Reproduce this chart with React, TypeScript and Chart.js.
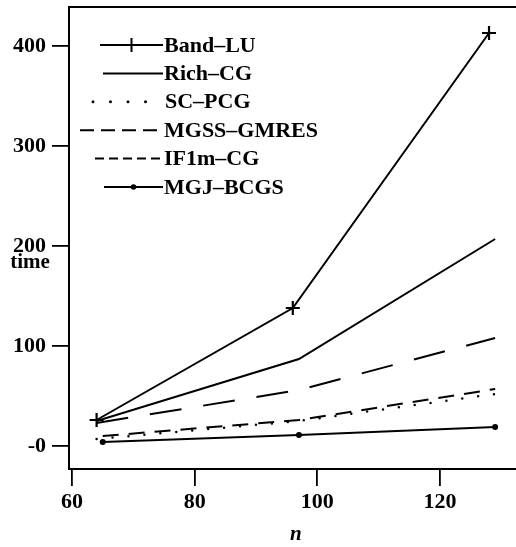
import { useEffect, useRef } from 'react';
import { Chart, registerables } from 'chart.js';

Chart.register(...registerables);

// ---- data ----
const N_BAND = [64, 96, 128];
const N_MAIN = [64, 97, 129];
const N_LOW = [65, 97, 129];

const BAND_LU = [26, 138, 413];
const RICH_CG = [25, 87, 207];
const SC_PCG = [7, 25, 52];
const MGSS_GMRES = [23, 56, 108];
const IF1M_CG = [10, 26, 57];
const MGJ_BCGS = [4, 11, 19];

const LABELS = ['Band–LU', 'Rich–CG', 'SC–PCG', 'MGSS–GMRES', 'IF1m–CG', 'MGJ–BCGS'];
const X_TICKS = [60, 80, 100, 120];
const Y_TICKS = [0, 100, 200, 300, 400];
const X_TITLE = 'n';
const Y_TITLE = 'time';

// ---- style / layout ----
const SERIF = "'Liberation Serif', 'DejaVu Serif', serif";
const TICK_FONT = { family: SERIF, size: 22, weight: 'bold' as const };
const LEGEND_FONT = `bold 22px ${SERIF}`;
const LEGEND_TOP = 38;
const LEGEND_ROW = 28.4;
const LEGEND_FROM = [31, 34, 24, 11, 26, 35];
const LEGEND_TO = [94, 94, 82, 88, 91, 94];
const LEGEND_TEXT = [95, 95, 96, 95, 95, 95];
const LEGEND_DASH: number[][] = [[], [], [0, 17.5], [14, 7], [9, 5], []];

const pts = (xs: number[], ys: number[]) => xs.map((x, i) => ({ x, y: ys[i] }));

const inlineLegend = {
  id: 'inlineLegend',
  afterDatasetsDraw(chart: any) {
    const { ctx, chartArea } = chart;
    ctx.save();
    ctx.strokeStyle = '#000';
    ctx.fillStyle = '#000';
    chart.data.datasets.forEach((ds: any, i: number) => {
      const y = chartArea.top + LEGEND_TOP + i * LEGEND_ROW;
      const x0 = chartArea.left + LEGEND_FROM[i];
      const x1 = chartArea.left + LEGEND_TO[i];
      ctx.beginPath();
      ctx.setLineDash(LEGEND_DASH[i]);
      ctx.lineCap = i === 2 ? 'round' : 'butt';
      ctx.lineWidth = i === 2 ? 3 : 2;
      ctx.moveTo(x0, y);
      ctx.lineTo(x1, y);
      ctx.stroke();
      ctx.setLineDash([]);
      const xm = (x0 + x1) / 2;
      if (ds.pointStyle === 'cross') {
        ctx.beginPath();
        ctx.lineWidth = 2;
        ctx.moveTo(xm, y - 7);
        ctx.lineTo(xm, y + 7);
        ctx.stroke();
      } else if (ds.pointRadius > 0) {
        ctx.beginPath();
        ctx.arc(xm, y, 2.8, 0, Math.PI * 2);
        ctx.fill();
      }
      ctx.font = LEGEND_FONT;
      ctx.textAlign = 'left';
      ctx.textBaseline = 'middle';
      ctx.fillText(ds.label, chartArea.left + LEGEND_TEXT[i], y + 1);
    });
    ctx.restore();
  },
};

const frameAndTitles = {
  id: 'frameAndTitles',
  afterDraw(chart: any) {
    const { ctx, chartArea, scales } = chart;
    ctx.save();
    ctx.strokeStyle = '#000';
    ctx.lineWidth = 2;
    ctx.beginPath();
    ctx.moveTo(chartArea.right, chartArea.top);
    ctx.lineTo(chartArea.left, chartArea.top);
    ctx.lineTo(chartArea.left, chartArea.bottom);
    ctx.lineTo(chartArea.right, chartArea.bottom);
    ctx.stroke();
    ctx.fillStyle = '#000';
    ctx.textAlign = 'center';
    ctx.textBaseline = 'middle';
    ctx.font = `bold 21px ${SERIF}`;
    ctx.fillText(Y_TITLE, chartArea.left - 39, scales.y.getPixelForValue(200) + 17);
    ctx.font = `italic bold 21px ${SERIF}`;
    ctx.fillText(X_TITLE, scales.x.getPixelForValue(96.5), chartArea.bottom + 66);
    ctx.restore();
  },
};

const noPad = (s: any) => {
  s.paddingTop = 0;
  s.paddingBottom = 0;
  s.paddingLeft = 0;
  s.paddingRight = 0;
};

export default function App() {
  const ref = useRef<HTMLCanvasElement | null>(null);

  useEffect(() => {
    document.body.style.margin = '0';
    const canvas = ref.current;
    if (!canvas) return;
    const base = {
      borderColor: '#000',
      backgroundColor: '#000',
      borderWidth: 2,
      pointRadius: 0,
      tension: 0,
      fill: false,
    };
    const chart = new Chart(canvas, {
      type: 'line',
      data: {
        datasets: [
          {
            ...base,
            label: LABELS[0],
            data: pts(N_BAND, BAND_LU),
            pointStyle: 'cross',
            pointRadius: 7,
            pointBorderWidth: 2.2,
            pointBorderColor: '#000',
          },
          { ...base, label: LABELS[1], data: pts(N_MAIN, RICH_CG) },
          {
            ...base,
            label: LABELS[2],
            data: pts(N_MAIN, SC_PCG),
            borderDash: [0, 16],
            borderCapStyle: 'round',
            borderWidth: 2.5,
          },
          { ...base, label: LABELS[3], data: pts(N_MAIN, MGSS_GMRES), borderDash: [32, 22] },
          { ...base, label: LABELS[4], data: pts(N_LOW, IF1M_CG), borderDash: [16, 10] },
          {
            ...base,
            label: LABELS[5],
            data: pts(N_LOW, MGJ_BCGS),
            pointStyle: 'circle',
            pointRadius: 2,
            pointBackgroundColor: '#000',
            pointBorderColor: '#000',
          },
        ] as any,
      },
      options: {
        animation: false,
        responsive: false,
        maintainAspectRatio: false,
        layout: { autoPadding: false, padding: { top: 7, left: 0, right: 0, bottom: 0 } },
        plugins: {
          legend: { display: false },
          tooltip: { enabled: false },
        },
        scales: {
          x: {
            type: 'linear',
            min: 59.5,
            max: 132.4,
            afterBuildTicks: (s: any) => {
              s.ticks = X_TICKS.map((v) => ({ value: v }));
            },
            afterFit: (s: any) => {
              s.height = 78;
              noPad(s);
            },
            grid: {
              display: true,
              drawOnChartArea: false,
              drawTicks: true,
              tickLength: 17,
              color: '#000',
              lineWidth: 1.8,
            },
            border: { display: false },
            ticks: {
              color: '#000',
              font: TICK_FONT,
              padding: 3,
              maxRotation: 0,
              autoSkip: false,
            },
          },
          y: {
            type: 'linear',
            min: -23,
            max: 439,
            afterBuildTicks: (s: any) => {
              s.ticks = Y_TICKS.map((v) => ({ value: v }));
            },
            afterFit: (s: any) => {
              s.width = 69;
              noPad(s);
            },
            grid: {
              display: true,
              drawOnChartArea: false,
              drawTicks: true,
              tickLength: 17,
              color: '#000',
              lineWidth: 1.8,
            },
            border: { display: false },
            ticks: {
              color: '#000',
              font: TICK_FONT,
              padding: 6,
              autoSkip: false,
              callback: (v: any) => (Number(v) === 0 ? '-0' : String(v)),
            },
          },
        },
      },
      plugins: [inlineLegend, frameAndTitles],
    });
    return () => chart.destroy();
  }, []);

  return (
    <div style={{ width: 516, height: 547, background: '#fff' }}>
      <canvas ref={ref} width={516} height={547} style={{ display: 'block' }} />
    </div>
  );
}
